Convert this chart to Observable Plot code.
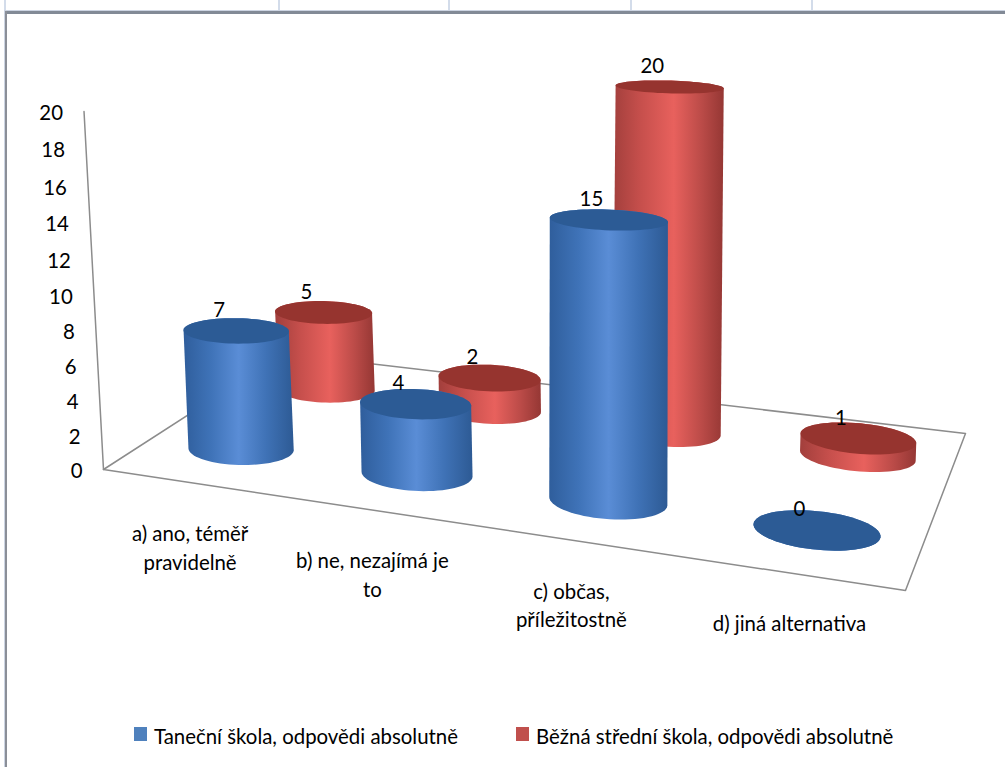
<!DOCTYPE html>
<html lang="cs">
<head>
<meta charset="utf-8">
<script src="https://cdn.jsdelivr.net/npm/d3@7"></script>
<script src="https://cdn.jsdelivr.net/npm/@observablehq/plot@0.6"></script>
<style>
  html, body { margin: 0; padding: 0; background: #fff; }
  #page { position: relative; width: 1005px; height: 767px; overflow: hidden; font-family: Lato, sans-serif; color: #000; }
  #chart { position: absolute; left: 0; top: 0; }
  .cell { position: absolute; top: 0; width: 2px; height: 11px; background: #d3dcea; }
  .frame-top { position: absolute; left: 4px; top: 10px; right: 0; height: 1px; background: #ccd4e2; }
  .frame-top-bar { position: absolute; left: 5px; top: 11px; right: 0; height: 3px; background: #828a96; }
  .frame-left { position: absolute; left: 4px; top: 10px; bottom: 0; width: 1px; background: #ccd4e2; }
  .frame-left-bar { position: absolute; left: 5px; top: 11px; bottom: 0; width: 2px; background: #8b8f98; }
  #legend { position: absolute; left: 0; top: 700px; width: 1005px; height: 67px; font-size: 20.4px; }
  .key { position: absolute; top: 27px; width: 13px; height: 14px; }
  .entry { position: absolute; top: 24px; line-height: 24px; white-space: nowrap; }
</style>
</head>
<body>
<div id="page"></div>
<script>
const categories = ["a) ano, téměř\npravidelně", "b) ne, nezajímá je\nto", "c) občas,\npříležitostně", "d) jiná alternativa"];
const seriesNames = ["Taneční škola, odpovědi absolutně", "Běžná střední škola, odpovědi absolutně"];
const tanecni = [7, 4, 15, 0];
const bezna = [5, 2, 20, 1];
const valueTicks = [0, 2, 4, 6, 8, 10, 12, 14, 16, 18, 20];

// Perspective of the chart floor: unit square (category axis, depth axis) to scene units.
const floor = {o: [103, 469], r: [905, 590], rb: [965, 433], b: [283, 353]};
const floorMap = (() => {
  const {o, r, rb, b} = floor;
  const dx1 = r[0] - rb[0], dy1 = r[1] - rb[1], dx2 = b[0] - rb[0], dy2 = b[1] - rb[1];
  const sx = o[0] - r[0] + rb[0] - b[0], sy = o[1] - r[1] + rb[1] - b[1];
  const det = dx1 * dy2 - dx2 * dy1;
  const g = (sx * dy2 - dx2 * sy) / det, h = (dx1 * sy - sx * dy1) / det;
  const A = r[0] - o[0] + g * r[0], B = b[0] - o[0] + h * b[0];
  const D = r[1] - o[1] + g * r[1], E = b[1] - o[1] + h * b[1];
  return (u, v) => {
    const w = g * u + h * v + 1;
    return {x: (A * u + B * v + o[0]) / w, y: (D * u + E * v + o[1]) / w, w};
  };
})();

const eyeHeight = 35, leanFactor = 0.002, leanCentre = 590;
const radiusU = 0.072, radiusV = 0.11;

// Height in scene units grows slightly faster toward the top of the value axis.
const rise = value => value * (17 + 0.045 * value);

// Project a point standing at height "value" above the floor position (u, v).
function project(u, v, value) {
  const f = floorMap(u, v);
  return {
    x: f.x + (f.x - leanCentre) * leanFactor * value,
    y: f.y - rise(value) / f.w
  };
}

// Ring of a cylinder cross-section; higher rings are seen more edge-on.
function ring(u, v, value) {
  const c = project(u, v, value), c0 = floorMap(u, v);
  const squash = 1 - value / eyeHeight;
  return d3.range(72).map(i => {
    const t = i / 72 * 2 * Math.PI;
    const p = floorMap(u + radiusU * Math.cos(t), v + radiusV * Math.sin(t));
    return {x: c.x + p.x - c0.x, y: c.y + (p.y - c0.y) * squash};
  });
}

const rows = [
  {values: bezna, v: 0.75, shift: 0.0075, side: "url(#sideRed)", top: "#96342f"},
  {values: tanecni, v: 0.25, shift: 0.0055, side: "url(#sideBlue)", top: "#2c5b95"}
];
const catU = i => (i + 0.5) / categories.length;

// Rear row first, so the front cylinders cover it.
const cylinders = rows.flatMap(row => row.values.map((value, i) => {
  const u = catU(i) + row.shift;
  const topRing = ring(u, row.v, value);
  const hull = d3.polygonHull(topRing.concat(ring(u, row.v, 0)).map(p => [p.x, p.y]));
  return {value, u, v: row.v, side: row.side, top: row.top, topRing, hull: hull.map(([x, y]) => ({x, y}))};
}));

const gradient = (id, stops) => () => {
  const ns = "http://www.w3.org/2000/svg";
  const defs = document.createElementNS(ns, "defs");
  const g = defs.appendChild(document.createElementNS(ns, "linearGradient"));
  g.setAttribute("id", id);
  for (const [offset, color] of stops) {
    const s = g.appendChild(document.createElementNS(ns, "stop"));
    s.setAttribute("offset", offset);
    s.setAttribute("stop-color", color);
  }
  return defs;
};

const floorEdge = [floor.o, floor.r, floor.rb, floor.b, floor.o].map(([x, y]) => ({x, y}));
const valueAxis = [project(0, 0, 0), project(0, 0, 20)];
const tickLabels = valueTicks.map(value => ({value, ...project(0, 0, value)}));
const categoryLabels = categories.map((label, i) => ({label, ...floorMap(catU(i), 0)}));
const valueLabels = cylinders.map(c => ({value: c.value, ...project(c.u, c.v, c.value)}));

const textStyle = {fontFamily: "Lato, sans-serif", fontSize: 20.4, fill: "#000"};

const chart = Plot.plot({
  width: 1005,
  height: 700,
  margin: 0,
  x: {domain: [0, 1005], range: [0, 1005], axis: null},
  y: {domain: [0, 700], range: [0, 700], axis: null},
  marks: [
    gradient("sideBlue", [[0, "#2f5e9c"], [0.25, "#3f73b8"], [0.5, "#5a8dd6"], [0.75, "#3f72b6"], [1, "#2d5a94"]]),
    gradient("sideRed", [[0, "#a23f3c"], [0.25, "#c64f4c"], [0.55, "#e8615d"], [0.8, "#bb4b48"], [1, "#953734"]]),
    Plot.line(floorEdge, {x: "x", y: "y", stroke: "#8c8c8c", strokeWidth: 1.5}),
    Plot.line(valueAxis, {x: "x", y: "y", stroke: "#8c8c8c", strokeWidth: 1.5}),
    cylinders.map(c => [
      Plot.line(c.hull, {x: "x", y: "y", fill: c.side, stroke: "none"}),
      Plot.line(c.topRing, {x: "x", y: "y", fill: c.top, stroke: "none"})
    ]),
    Plot.text(tickLabels, {x: "x", y: "y", text: d => String(d.value), textAnchor: "end", dx: -21, dy: 2, ...textStyle}),
    Plot.text(categoryLabels, {x: "x", y: "y", text: "label", lineAnchor: "top", dx: 1, dy: 38, lineHeight: 1.42, ...textStyle}),
    Plot.text(valueLabels, {x: "x", y: "y", text: d => String(d.value), dx: -17, dy: -20, ...textStyle})
  ]
});
chart.id = "chart";

const page = document.getElementById("page");
page.append(chart);
for (const left of [4, 278, 448, 630, 811]) {
  const cell = document.createElement("div");
  cell.className = "cell";
  cell.style.left = left + "px";
  page.append(cell);
}
for (const name of ["frame-top", "frame-left", "frame-top-bar", "frame-left-bar"]) {
  const el = document.createElement("div");
  el.className = name;
  page.append(el);
}
const legend = document.createElement("div");
legend.id = "legend";
[["#4f81bd", 134, 154], ["#c0504d", 516, 536]].forEach(([color, keyLeft, textLeft], i) => {
  const key = document.createElement("div");
  key.className = "key";
  key.style.left = keyLeft + "px";
  key.style.background = color;
  const entry = document.createElement("div");
  entry.className = "entry";
  entry.style.left = textLeft + "px";
  entry.textContent = seriesNames[i];
  legend.append(key, entry);
});
page.append(legend);
</script>
</body>
</html>
